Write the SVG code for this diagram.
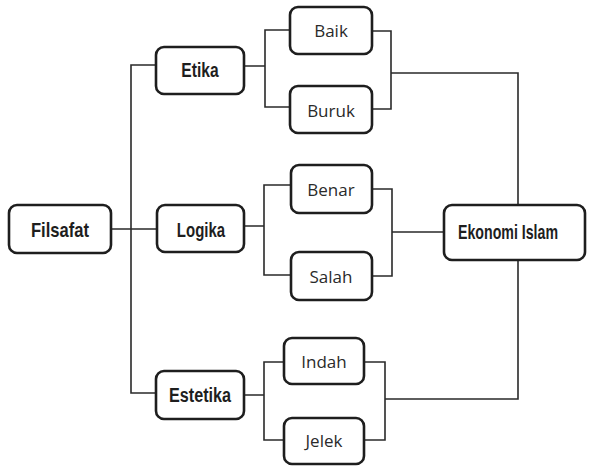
<svg xmlns="http://www.w3.org/2000/svg" width="589" height="466" viewBox="0 0 589 466">
<style>
.box{fill:#fff;stroke:#1e1e1e;stroke-width:2.6}
.con{fill:none;stroke:#2a2a2a;stroke-width:1.6}
.b{font-family:"Liberation Sans",Arial,sans-serif;font-weight:bold;font-size:20px;fill:#1e1e1e;text-anchor:middle}
.r{font-family:"Open Sans","Noto Sans",sans-serif;font-size:17px;fill:#2a2a2a;text-anchor:middle}
</style>
<rect width="589" height="466" fill="#fff"/>
<g id="connectors">
<path class="con" d="M156,65 H131 V393 H156 M111,229 H157"/>
<path class="con" d="M244,66 H265 V30 H290 M265,66 V107 H290"/>
<path class="con" d="M372,31 H391 V109 H372 M391,73 H518 V205"/>
<path class="con" d="M244,226 H264 V185 H291 M264,226 V275 H291"/>
<path class="con" d="M372,189 H392 V276 H372 M392,232 H444"/>
<path class="con" d="M244,395 H264 V362 H284 M264,395 V440 H284"/>
<path class="con" d="M364,362 H385 V440 H364 M385,399 H518 V260"/>
</g>
<g id="filsafat"><rect class="box" x="9" y="205" width="102" height="48" rx="8"/><text class="b" transform="translate(60,237) scale(0.83,1)">Filsafat</text></g>
<g id="etika"><rect class="box" x="156" y="47" width="88" height="47" rx="8"/><text class="b" transform="translate(200,77) scale(0.78,1)">Etika</text></g>
<g id="logika"><rect class="box" x="157" y="205" width="87" height="47" rx="8"/><text class="b" transform="translate(201,237) scale(0.75,1)">Logika</text></g>
<g id="estetika"><rect class="box" x="156" y="371" width="88" height="48" rx="8"/><text class="b" transform="translate(200,402) scale(0.81,1)">Estetika</text></g>
<g id="baik"><rect class="box" x="290" y="7" width="82" height="47" rx="8"/><text class="r" x="331" y="37">Baik</text></g>
<g id="buruk"><rect class="box" x="290" y="86" width="82" height="47" rx="8"/><text class="r" x="331" y="117">Buruk</text></g>
<g id="benar"><rect class="box" x="291" y="165" width="81" height="48" rx="8"/><text class="r" x="331" y="196">Benar</text></g>
<g id="salah"><rect class="box" x="291" y="252" width="81" height="48" rx="8"/><text class="r" x="331" y="283">Salah</text></g>
<g id="indah"><rect class="box" x="284" y="338" width="80" height="46" rx="8"/><text class="r" x="324" y="368">Indah</text></g>
<g id="jelek"><rect class="box" x="284" y="418" width="80" height="46" rx="8"/><text class="r" x="324" y="447">Jelek</text></g>
<g id="ekonomi-islam"><rect class="box" x="444" y="205" width="141" height="55" rx="8"/><text class="b" transform="translate(508,239) scale(0.71,1)">Ekonomi Islam</text></g>
</svg>
